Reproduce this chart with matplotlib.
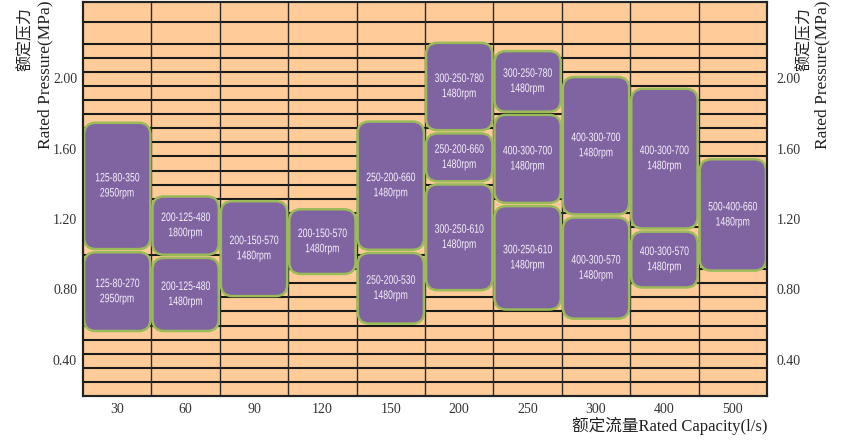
import numpy as np
import matplotlib.pyplot as plt
from matplotlib.patches import FancyBboxPatch
from matplotlib.path import Path
from matplotlib.patheffects import AbstractPathEffect

plt.rcParams['font.family'] = ['Liberation Serif', 'Noto Sans CJK SC', 'DejaVu Sans']

flows = ['30', '60', '90', '120', '150', '200', '250', '300', '400', '500']

# one entry per pump: column index, model, speed, pressure low, pressure high (MPa)
col_idx = [0, 0, 1, 1, 2, 3, 4, 4, 5, 5, 5, 6, 6, 6, 7, 7, 8, 8, 9]
models = ['125-80-270', '125-80-350', '200-125-480', '200-125-480', '200-150-570',
          '200-150-570', '250-200-530', '250-200-660', '300-250-610', '250-200-660',
          '300-250-780', '300-250-610', '400-300-700', '300-250-780', '400-300-570',
          '400-300-700', '400-300-570', '400-300-700', '500-400-660']
speeds = ['2950rpm', '2950rpm', '1480rpm', '1800rpm', '1480rpm',
          '1480rpm', '1480rpm', '1480rpm', '1480rpm', '1480rpm',
          '1480rpm', '1480rpm', '1480rpm', '1480rpm', '1480rpm',
          '1480rpm', '1480rpm', '1480rpm', '1480rpm']
p_low = [0.555, 1.02, 0.555, 0.988, 0.753, 0.879, 0.597, 1.016, 0.787, 1.405,
         1.695, 0.677, 1.282, 1.80, 0.625, 1.217, 0.802, 1.137, 0.898]
p_high = [1.02, 1.755, 0.988, 1.337, 1.31, 1.264, 1.016, 1.762, 1.405, 1.695,
          2.209, 1.282, 1.80, 2.162, 1.217, 2.015, 1.137, 1.948, 1.548]

yticks = [0.40, 0.80, 1.20, 1.60, 2.00]
grid_levels = list(np.arange(0.275, 2.2, 0.08)) + [2.317]

bg = '#FFCC99'
purple = '#8064A2'
green = '#9BBB59'


class Squeeze(AbstractPathEffect):
    # narrow the glyphs of each text line around its own centre
    def __init__(self, sx):
        super().__init__()
        self.sx = sx

    def draw_path(self, renderer, gc, tpath, affine, rgbFace=None):
        v = tpath.vertices.copy()
        codes = tpath.codes
        if codes is not None:
            m = codes != Path.CLOSEPOLY
        else:
            m = np.ones(len(v), bool)
        if m.any():
            cx = (v[m, 0].min() + v[m, 0].max()) / 2
            v[:, 0] = cx + (v[:, 0] - cx) * self.sx
        renderer.draw_path(gc, Path(v, codes), affine, rgbFace)


fig = plt.figure(figsize=(8.48, 4.41), dpi=100)
ax = fig.add_axes([0.0979, 0.102, 0.8066, 0.894])
ax.set_facecolor(bg)
ax.set_xlim(-0.5, 9.5)
ax.set_ylim(0.195, 2.433)

for g in grid_levels:
    ax.axhline(g, color='#1a1a1a', lw=1.5, zorder=1)
for k in range(1, 10):
    ax.axvline(k - 0.5, color='#2a2a2a', lw=1.0, zorder=1)

# keep corners round despite different x/y scales
aspect = (0.8066 * 848 / 10) / (0.894 * 441 / 2.238)
gap_x = 0.015
gap_y = 0.009
for i in range(len(models)):
    x0 = col_idx[i] - 0.5 + gap_x
    w = 1 - 2 * gap_x
    y0 = p_low[i] + gap_y
    h = p_high[i] - p_low[i] - 2 * gap_y
    box = FancyBboxPatch((x0, y0), w, h,
                         boxstyle='round,pad=0,rounding_size=0.17',
                         mutation_aspect=aspect,
                         facecolor=purple, edgecolor=green, lw=1.8, zorder=3)
    ax.add_patch(box)
    ax.text(col_idx[i], (p_low[i] + p_high[i]) / 2, models[i] + '\n' + speeds[i],
            ha='center', va='center', color='#F4F0F8', fontsize=8.8,
            family=['Liberation Sans', 'DejaVu Sans'], linespacing=1.35,
            path_effects=[Squeeze(0.71)], zorder=4)

ax.set_xticks(range(10))
ax.set_xticklabels(flows, fontsize=10)
ax.set_yticks(yticks)
ax.set_yticklabels(['%.2f' % v for v in yticks], fontsize=10, color='#333333')
ax.tick_params(axis='both', length=0)
ax.tick_params(axis='x', pad=5, colors='#333333')
ax.tick_params(axis='y', pad=4.3)

ax2 = ax.twinx()
ax2.set_ylim(ax.get_ylim())
ax2.set_yticks(yticks)
ax2.set_yticklabels(['%.2f' % v for v in yticks], fontsize=10, color='#333333')
ax2.tick_params(axis='y', length=0, pad=7)

for a in (ax, ax2):
    for s in a.spines.values():
        s.set_color('#222222')
        s.set_linewidth(1.5)

fig.text(0.905, 0.013, '额定流量Rated Capacity(l/s)', ha='right', va='bottom',
         fontsize=12, color='#222222')

fig.text(26 / 848, 0.985, '额定压力', rotation=90, ha='center', va='top',
         fontsize=11.5, color='#222222')
fig.text(45 / 848, 0.998, 'Rated Pressure(MPa)', rotation=90, ha='center', va='top',
         fontsize=12.5, color='#222222')
fig.text(805 / 848, 0.985, '额定压力', rotation=90, ha='center', va='top',
         fontsize=11.5, color='#222222')
fig.text(822 / 848, 0.998, 'Rated Pressure(MPa)', rotation=90, ha='center', va='top',
         fontsize=12.5, color='#222222')

fig.savefig('out.png', dpi=100)
